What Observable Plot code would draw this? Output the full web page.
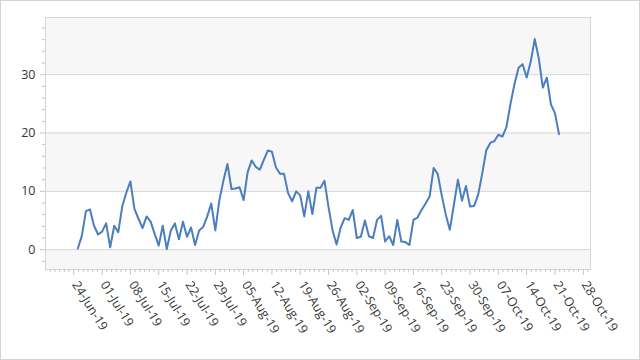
<!DOCTYPE html>
<html>
<head>
<meta charset="utf-8">
<script src="https://cdn.jsdelivr.net/npm/d3@7"></script>
<script src="https://cdn.jsdelivr.net/npm/@observablehq/plot@0.6"></script>
<style>
html, body { margin: 0; padding: 0; background: #fff; }
#chart { position: relative; width: 640px; height: 360px; overflow: hidden; }
#border { position: absolute; left: 0; top: 0; width: 640px; height: 360px; box-sizing: border-box; border: 1px solid #d4d4d4; pointer-events: none; }
</style>
</head>
<body>
<div id="chart"><div id="border"></div></div>
<script>
// Daily series, starting 25-Jun-2019
const startDate = "2019-06-25";
const juneValues = [0.2, 2.4, 6.6, 6.9, 4.1, 2.6];
const julyValues = [3.1, 4.5, 0.4, 4.1, 3.0, 7.5, 9.8, 11.7, 7.0, 5.3, 3.7, 5.7, 4.8, 2.7, 0.7, 4.1,
  0.1, 3.3, 4.5, 1.8, 4.8, 2.2, 3.8, 0.8, 3.3, 3.9, 5.7, 7.9, 3.3, 8.5, 11.8];
const augustValues = [14.7, 10.4, 10.5, 10.7, 8.5, 13.3, 15.3, 14.2, 13.7, 15.4, 17.0, 16.8, 14.1, 13.0, 13.0, 9.7,
  8.3, 10.0, 9.3, 5.7, 10.0, 6.1, 10.6, 10.6, 11.8, 7.3, 3.3, 0.9, 3.8, 5.4, 5.1];
const septemberValues = [6.8, 2.0, 2.2, 5.0, 2.3, 2.0, 5.1, 5.8, 1.4, 2.3, 0.8, 5.1, 1.4, 1.3, 0.8, 5.1,
  5.5, 6.8, 7.9, 9.1, 14.0, 13.0, 9.3, 6.0, 3.4, 7.7, 12.0, 8.4, 10.9, 7.4];
const octoberValues = [7.5, 9.4, 13.0, 17.0, 18.3, 18.6, 19.7, 19.4, 21.0, 25.0, 28.4, 31.2, 31.8, 29.5, 32.2, 36.1,
  32.8, 27.8, 29.5, 24.9, 23.4, 19.8];

const tickDates = ["2019-06-24", "2019-07-01", "2019-07-08", "2019-07-15", "2019-07-22", "2019-07-29",
  "2019-08-05", "2019-08-12", "2019-08-19", "2019-08-26", "2019-09-02", "2019-09-09", "2019-09-16",
  "2019-09-23", "2019-09-30", "2019-10-07", "2019-10-14", "2019-10-21", "2019-10-28"];
const yTicks = [0, 10, 20, 30];

// ---- build table ----
const allValues = [...juneValues, ...julyValues, ...augustValues, ...septemberValues, ...octoberValues];
const start = new Date(startDate);
const data = allValues.map((v, i) => ({ date: d3.utcDay.offset(start, i), value: v }));
const majorX = tickDates.map(d => new Date(d));

const xDomain = [new Date("2019-06-17"), new Date("2019-10-29T19:00:00Z")];
const yDomain = [-3.4, 39.8];

const minorStep = 7 * 864e5 / 6;
const minorX = [];
for (let t = +xDomain[0]; t <= +xDomain[1]; t += minorStep) {
  const k = Math.round((t - +xDomain[0]) / minorStep);
  if (k % 6 !== 0) minorX.push(new Date(t));
}
const minorY = d3.range(-2, 40, 2).filter(v => v % 10 !== 0);

const bands = [
  { lo: yDomain[0], hi: 0 },
  { lo: 10, hi: 20 },
  { lo: 30, hi: yDomain[1] }
];

const fmt = d3.utcFormat("%d-%b-%y");
const gridColor = "#d6d6d6";
const tickColor = "#c4c4c4";

const chart = Plot.plot({
  width: 640,
  height: 360,
  marginLeft: 45,
  marginRight: 50,
  marginTop: 17,
  marginBottom: 91,
  style: { fontFamily: "'Open Sans', sans-serif", fontSize: "12px", color: "#363636", background: "transparent" },
  x: { type: "utc", domain: xDomain },
  y: { domain: yDomain },
  marks: [
    Plot.rect(bands, { x1: () => xDomain[0], x2: () => xDomain[1], y1: "lo", y2: "hi", fill: "#f7f7f7" }),
    Plot.ruleY(yTicks, { stroke: gridColor }),
    Plot.frame({ stroke: gridColor }),
    Plot.axisY({ ticks: yTicks, tickSize: 5, tickPadding: 5, stroke: tickColor, fill: "#363636", fontSize: 12.5, tickFormat: d => d, label: null }),
    Plot.axisY({ ticks: minorY, tickSize: 3, stroke: tickColor, tickFormat: () => "", label: null }),
    Plot.axisX({ ticks: majorX, tickSize: 6, stroke: tickColor, tickFormat: () => "", label: null }),
    Plot.axisX({ ticks: minorX, tickSize: 3, stroke: tickColor, tickFormat: () => "", label: null }),
    Plot.text(majorX, { x: d => d, text: d => fmt(d), frameAnchor: "bottom", dy: 15, dx: -2, rotate: 58, textAnchor: "start", fill: "#363636", fontSize: 12.5 }),
    Plot.lineY(data, { x: "date", y: "value", stroke: "#4a7ebe", strokeWidth: 2 })
  ]
});
document.getElementById("chart").prepend(chart);
</script>
</body>
</html>
